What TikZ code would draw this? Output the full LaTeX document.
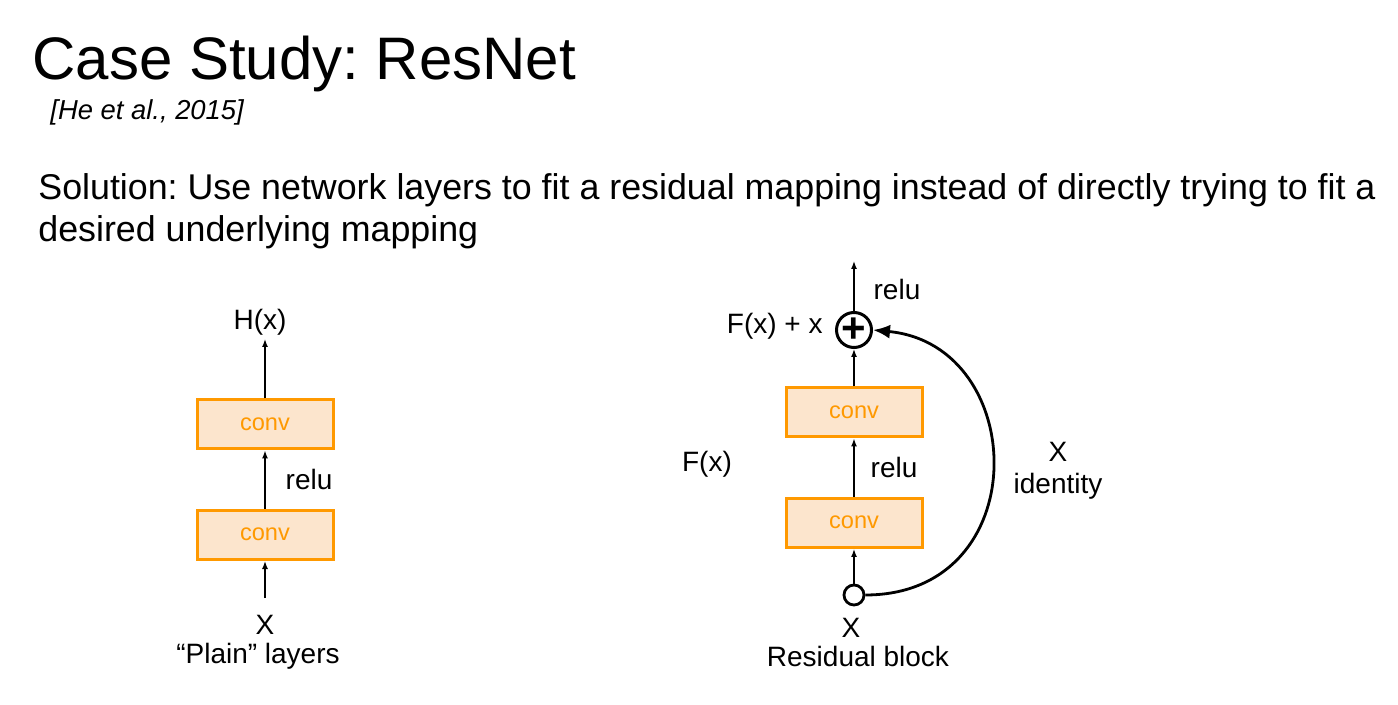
\documentclass[tikz,border=0pt]{standalone}
\usepackage{fontspec}
\setmainfont{Liberation Sans}
\usepackage{tikz}
\usetikzlibrary{arrows.meta,positioning}
\definecolor{convorange}{RGB}{255,153,0}
\definecolor{convfill}{RGB}{252,229,205}
\frenchspacing

\begin{document}
\begin{tikzpicture}[x=0.5pt, y=-0.5pt,
    convbox/.style={draw=convorange, fill=convfill, line width=1.5pt,
        minimum width=68pt, minimum height=24.5pt, inner sep=0pt,
        text=convorange, font=\fontsize{11.8}{14}\selectfont,
        text depth=0.6pt},
    lbl/.style={font=\fontsize{14}{17}\selectfont, inner sep=0pt},
    flow/.style={-{Latex[length=4pt,width=3pt]}, line width=0.7pt},
    skip/.style={-{Latex[length=8.5pt,width=7pt]}, line width=1.4pt}]
    \useasboundingbox (0,0) rectangle (1398,705);
    % heading
    \node[anchor=base west, inner sep=0pt, font=\fontsize{30}{34}\selectfont]
        (title) at (32,80) {Case Study: ResNet};
    \node[anchor=base west, inner sep=0pt, font=\itshape\fontsize{13.7}{16}\selectfont]
        (cite) at (50,120) {[He et al., 2015]};
    \node[anchor=base west, inner sep=0pt, font=\fontsize{17.9}{21}\selectfont]
        (sol1) at (38,200) {Solution: Use network layers to fit a residual mapping instead of directly trying to fit a};
    \node[anchor=base west, inner sep=0pt, font=\fontsize{17.9}{21}\selectfont]
        (sol2) at (38,242) {desired underlying mapping};

    % plain layers
    \node[convbox] (pc2) at (265,424.5) {conv};
    \node[convbox] (pc1) at (265,535) {conv};
    \coordinate (pin) at (265,598);
    \node[lbl] (hx) at (260,322) {H(x)};
    \coordinate (pout) at (265,339);
    \draw[flow] (pin) -- (pc1);
    \draw[flow] (pc1) -- (pc2) node[lbl, midway, right=10pt] (prelu) {relu};
    \draw[flow] (pc2) -- (pout);
    \node[lbl] (px) at (265,625) {X};
    \node[lbl] (plain) at (258,656) {``Plain'' layers};

    % residual block
    \node[convbox] (rc2) at (854,412.5) {conv};
    \node[convbox] (rc1) at (854,523) {conv};
    \node[circle, draw, line width=1.4pt, fill=white, minimum size=10pt, inner sep=0pt]
        (rin) at (854,595) {};
    \node[circle, draw, line width=1.5pt, minimum size=17.5pt, inner sep=0pt,
        font=\bfseries\fontsize{21}{21}\selectfont] (add) at (854,330) {+};
    \coordinate (rout) at (854,261);
    \draw[flow] (rin) -- (rc1);
    \draw[flow] (rc1) -- (rc2) node[lbl, midway, right=8pt] (rrelu) {relu};
    \draw[flow] (rc2) -- (add);
    \draw[flow] (add) -- (rout);
    \draw[skip] (rin.east) .. controls (1036,595) and (1030,345) .. (add.east);
    \node[lbl] (rrelu2) at (897,289) {relu};
    \node[lbl, anchor=east] (fxx) at (823,326) {F(x) + x};
    \node[lbl] (fx) at (707,464) {F(x)};
    \node[lbl] (idx) at (1058,452) {X};
    \node[lbl] (ident) at (1058,486) {identity};
    \node[lbl] (rx) at (851,628) {X};
    \node[lbl] (resid) at (858,656) {Residual block};
\end{tikzpicture}
\end{document}
